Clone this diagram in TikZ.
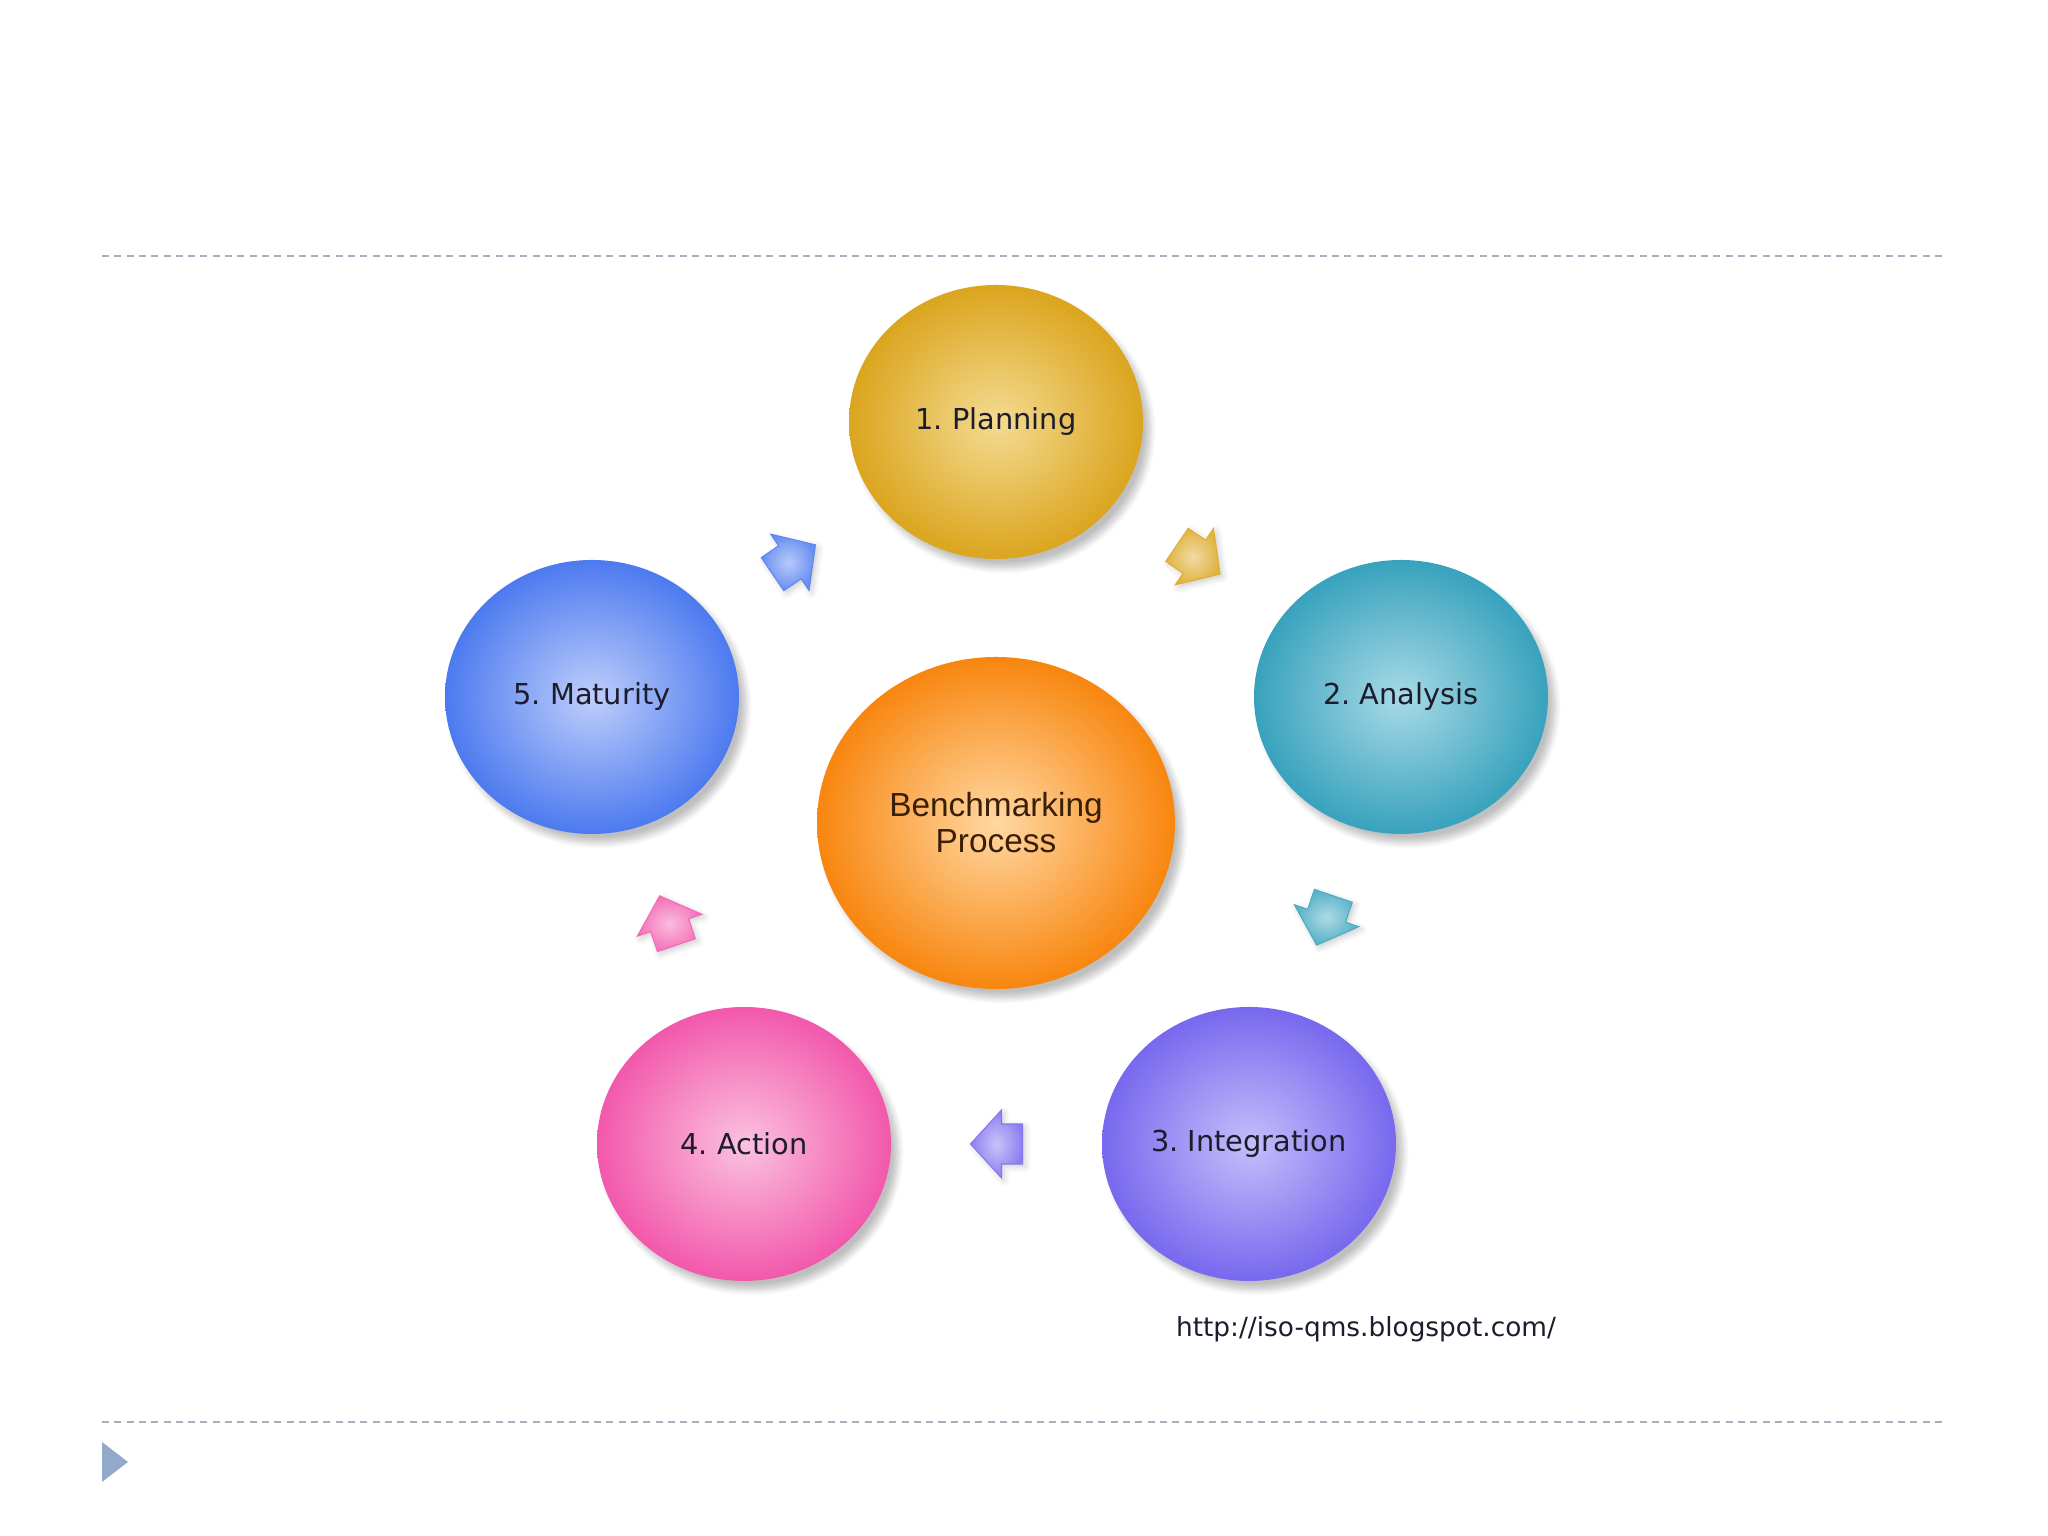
\documentclass[tikz,border=0pt]{standalone}
\usepackage{fontspec}
\usepackage{xcolor}
\usepackage{tikz}
\usetikzlibrary{shapes.geometric,shadows.blur,calc}

\newfontfamily\labelfont{DejaVu Sans}
\newfontfamily\procfont{Liberation Sans}

\definecolor{planin}{HTML}{F4DB92}
\definecolor{planout}{HTML}{DBA51E}
\definecolor{analin}{HTML}{A8DAE6}
\definecolor{analout}{HTML}{38A2BD}
\definecolor{integin}{HTML}{C6BEFA}
\definecolor{integout}{HTML}{7868EE}
\definecolor{actin}{HTML}{FBC2DF}
\definecolor{actout}{HTML}{F258AC}
\definecolor{matin}{HTML}{BFCEFB}
\definecolor{matout}{HTML}{4C7AEF}
\definecolor{procin}{HTML}{FFD8A2}
\definecolor{procout}{HTML}{F8860F}
\definecolor{textdark}{HTML}{1C1C2C}
\definecolor{textbrown}{HTML}{3A1E08}
\definecolor{rulegray}{HTML}{A8B0C0}
\definecolor{bullet}{HTML}{93A9CB}

\begin{document}
\begin{tikzpicture}[
    ball/.style={ellipse, minimum width=2.94cm, minimum height=2.74cm, inner sep=0pt,
        blur shadow={shadow xshift=2pt, shadow yshift=-2.5pt, shadow blur steps=8, shadow opacity=25},
        font=\labelfont\fontsize{8.2}{10}\selectfont, text=textdark},
    rule/.style={rulegray, line width=0.55pt, dash pattern=on 2pt off 1.5pt},
    pics/cyclearrow/.style={code={
        \shade[inner color=#1!40, outer color=#1!85, draw=#1!90, line width=0.3pt,
            blur shadow={shadow xshift=0.8pt, shadow yshift=-0.8pt, shadow blur steps=4, shadow opacity=20}]
            (0.26,0) -- (-0.05,0.34) -- (-0.05,0.2) -- (-0.26,0.2) -- (-0.26,-0.2)
            -- (-0.05,-0.2) -- (-0.05,-0.34) -- cycle;
    }}
]
    \useasboundingbox (0,0) rectangle (20.48,15.36);

    % Slide rules
    \draw[rule] (1.02,12.80) -- (19.46,12.80);
    \draw[rule] (1.02,1.14) -- (19.46,1.14);
    \fill[bullet] (1.02,0.94) -- (1.28,0.74) -- (1.02,0.54) -- cycle;

    % Centre
    \node[ball, minimum width=3.58cm, minimum height=3.32cm, shade, inner color=procin, outer color=procout,
        font=\procfont\fontsize{9.5}{10.2}\selectfont, text=textbrown, align=center]
        (proc) at (9.96,7.13) {Benchmarking\\Process};

    % Cycle steps
    \node[ball, shade, inner color=planin, outer color=planout] (plan) at (9.96,11.14) {1.~Planning};
    \node[ball, shade, inner color=analin, outer color=analout] (anal) at (14.01,8.39) {2.~Analysis};
    \node[ball, shade, inner color=integin, outer color=integout] (integ) at (12.49,3.92) {3.~Integration};
    \node[ball, shade, inner color=actin, outer color=actout] (act) at (7.44,3.92) {4.~Action};
    \node[ball, shade, inner color=matin, outer color=matout] (mat) at (5.92,8.39) {5.~Maturity};

    % Arrows between steps
    \foreach \a/\b/\col in {plan/anal/planout, anal/integ/analout, integ/act/integout,
                            act/mat/actout, mat/plan/matout} {
        \path let \p1=($(\b)-(\a)$), \n1={atan2(\y1,\x1)} in
            ($(\a)!0.5!(\b)$) pic[rotate=\n1] {cyclearrow=\col};
    }

    \node[font=\labelfont\fontsize{7.5}{9}\selectfont, text=textdark] (url) at (13.66,2.07)
        {http://iso-qms.blogspot.com/};
\end{tikzpicture}
\end{document}
